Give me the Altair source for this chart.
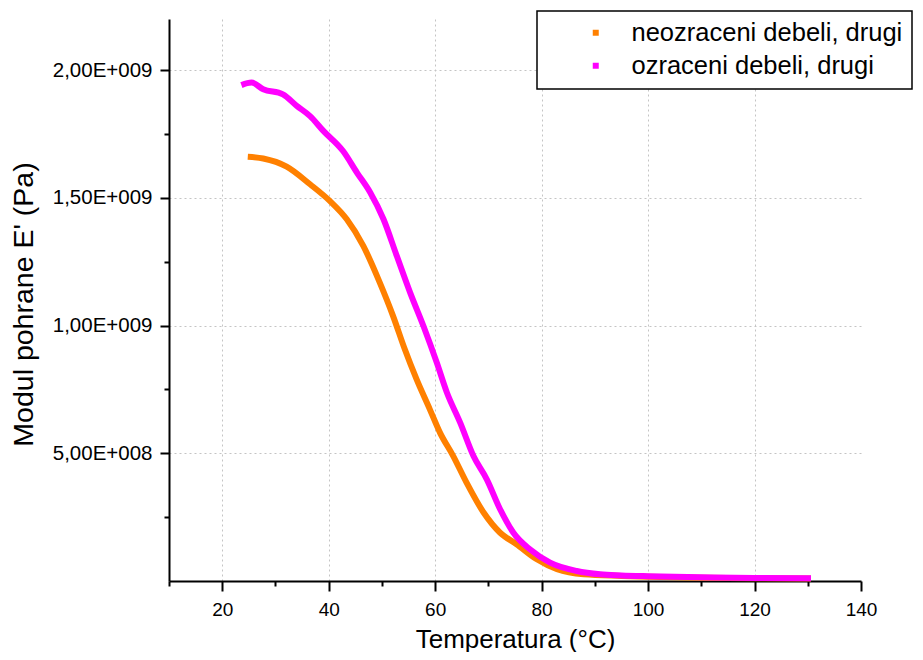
import altair as alt
import pandas as pd

series_names = ["neozraceni debeli, drugi", "ozraceni debeli, drugi"]
series_colors = ["#FF8000", "#FF00FF"]

# neozraceni debeli, drugi
temp_neo = [24.8, 27.7, 32.1, 36.5, 40.2, 43.4, 46.5, 49.6, 52.1, 54.3, 56.5, 59.0,
            60.9, 63.4, 65.9, 69.1, 72.2, 75.3, 79.1, 82.9, 87.9, 95.0, 100.0, 110.0,
            120.0, 130.6]
mod_neo = [1.661e9, 1.654e9, 1.622e9, 1.553e9, 1.488e9, 1.416e9, 1.312e9, 1.168e9,
           1.037e9, 0.907e9, 0.790e9, 0.672e9, 0.581e9, 0.489e9, 0.385e9, 0.268e9,
           0.189e9, 0.144e9, 0.085e9, 0.046e9, 0.026e9, 0.020e9, 0.017e9, 0.013e9,
           0.011e9, 0.010e9]

# ozraceni debeli, drugi
temp_oz = [23.6, 25.5, 27.7, 31.4, 34.0, 36.5, 39.0, 42.7, 45.3, 47.8, 50.3, 52.8,
           55.3, 57.8, 60.3, 62.2, 64.7, 67.2, 69.7, 72.2, 74.7, 77.8, 81.6, 86.6,
           91.0, 95.0, 100.0, 110.0, 120.0, 130.6]
mod_oz = [1.941e9, 1.951e9, 1.925e9, 1.905e9, 1.860e9, 1.820e9, 1.762e9, 1.683e9,
          1.599e9, 1.521e9, 1.416e9, 1.272e9, 1.129e9, 0.998e9, 0.855e9, 0.738e9,
          0.620e9, 0.489e9, 0.398e9, 0.281e9, 0.189e9, 0.124e9, 0.072e9, 0.039e9,
          0.026e9, 0.022e9, 0.019e9, 0.015e9, 0.012e9, 0.011e9]

x_ticks = [10, 20, 30, 40, 50, 60, 70, 80, 90, 100, 110, 120, 130, 140]
y_ticks = [2.5e8, 5e8, 7.5e8, 1e9, 1.25e9, 1.5e9, 1.75e9, 2e9]

df = pd.concat([
    pd.DataFrame({"T": temp_neo, "E": mod_neo, "serija": series_names[0]}),
    pd.DataFrame({"T": temp_oz, "E": mod_oz, "serija": series_names[1]}),
])

FONT = "Liberation Sans"
major_y = "datum.value % 500000000 == 0"
major_x = "datum.value % 20 == 0"

x_axis = alt.Axis(
    values=x_ticks,
    title="Temperatura (°C)",
    labelExpr=f"{major_x} ? format(datum.value, 'd') : ''",
    tickSize={"condition": {"test": major_x, "value": 10}, "value": 5},
    gridOpacity={"condition": {"test": f"{major_x} && datum.value < 140", "value": 1}, "value": 0},
    labelFlush=False,
    labelPadding=9,
    titlePadding=7,
    labelFontSize=19,
    titleFontSize=26,
)

y_axis = alt.Axis(
    values=y_ticks,
    title="Modul pohrane E' (Pa)",
    labelExpr=(f"{major_y} ? (datum.value >= 1e9 ? "
               "replace(format(datum.value/1e9, '.2f'), '.', ',') + 'E+009' : "
               "replace(format(datum.value/1e8, '.2f'), '.', ',') + 'E+008') : ''"),
    tickSize={"condition": {"test": major_y, "value": 9}, "value": 5},
    gridOpacity={"condition": {"test": major_y, "value": 1}, "value": 0},
    labelFlush=False,
    labelPadding=8,
    titlePadding=14,
    titleY=285,
    labelFontSize=20.5,
    titleFontSize=28.5,
)

chart = alt.Chart(df).mark_line(strokeWidth=6, strokeJoin="round", interpolate="monotone").encode(
    x=alt.X("T:Q", scale=alt.Scale(domain=[10, 140], nice=False, zero=False), axis=x_axis),
    y=alt.Y("E:Q", scale=alt.Scale(domain=[0, 2.2e9], nice=False), axis=y_axis),
    color=alt.Color(
        "serija:N",
        scale=alt.Scale(domain=series_names, range=series_colors),
        legend=alt.Legend(title=None, symbolType="square"),
    ),
).properties(
    width=692,
    height=562,
    autosize=alt.AutoSizeParams(type="none"),
    padding={"left": 161, "top": 11, "right": 54, "bottom": 71},
).configure_view(
    stroke=None,
).configure_axis(
    domainColor="black",
    domainWidth=2,
    tickColor="black",
    tickWidth=2,
    labelColor="black",
    titleColor="black",
    labelFont=FONT,
    titleFont=FONT,
    titleFontWeight="normal",
    gridColor="#c4c4c4",
    gridDash=[2, 3],
    gridWidth=1,
).configure_legend(
    orient="none",
    legendX=368,
    legendY=-8,
    strokeColor="black",
    strokeWidth=1.5,
    fillColor="white",
    padding=9,
    labelFont=FONT,
    labelFontSize=25.5,
    labelColor="black",
    symbolSize=9,
    symbolStrokeWidth=3,
    symbolOffset=37,
    labelOffset=23,
    rowPadding=6,
    labelLimit=400,
)

chart.save("out.html", embed_options={"renderer": "svg", "actions": False})
